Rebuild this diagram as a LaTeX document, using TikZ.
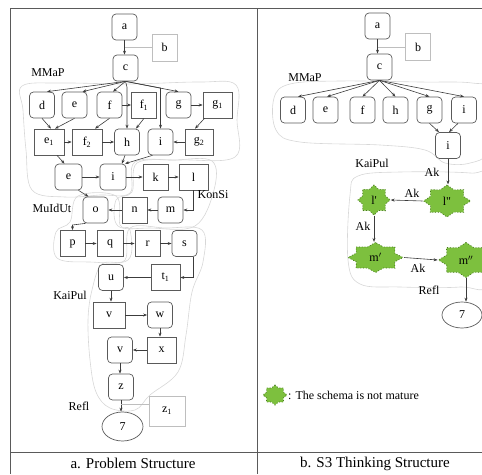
\documentclass[tikz,border=0pt]{standalone}
\usepackage{fontspec}
\setmainfont{Liberation Serif}
\usetikzlibrary{shapes.geometric,arrows.meta}
\definecolor{boxc}{RGB}{90,90,90}
\definecolor{linec}{RGB}{60,60,60}
\definecolor{regc}{RGB}{215,215,215}
\definecolor{ltbox}{RGB}{190,190,190}
\definecolor{starfill}{RGB}{125,192,62}
\definecolor{stardraw}{RGB}{70,120,30}
\begin{document}
\begin{tikzpicture}[x=1pt,y=-1pt, font=\rmfamily\fontsize{12}{14}\selectfont,
 box/.style={draw=boxc, line width=0.7pt, minimum width=25pt, minimum height=26pt, inner sep=0pt},
 rbox/.style={box, rounded corners=4pt},
 gbox/.style={draw=ltbox, line width=0.7pt, minimum width=25pt, minimum height=27pt, inner sep=0pt},
 arr/.style={draw=linec, line width=0.6pt, -{Stealth[length=4pt,width=3pt]}},
 gl/.style={draw=ltbox, line width=0.6pt},
 reg/.style={draw=regc, line width=0.6pt},
 lab/.style={inner sep=0pt},
 oval/.style={draw=boxc, line width=0.7pt, ellipse, inner sep=0pt},
 starnode/.style={star, star points=8, star point ratio=1.32, fill=starfill, draw=stardraw, dotted, line width=0.8pt, inner sep=0pt, transform shape},
 captxt/.style={font=\rmfamily\fontsize{15}{17}\selectfont, inner sep=0pt}
]
\useasboundingbox (0,0) rectangle (482,474);

% ---------- background regions ----------
\draw[reg] plot[smooth cycle, tension=0.6] coordinates {(22,86) (60,83) (130,84) (200,82) (236,85) (237,120) (235,157) (180,160) (135,162) (130,193) (100,195) (65,197) (32,190) (26,150) (23,110)};
\draw[reg] plot[smooth cycle, tension=0.6] coordinates {(137,163) (175,160) (212,161) (214,190) (195,226) (150,228) (118,226) (116,200) (132,192)};
\draw[reg] plot[smooth cycle, tension=0.6] coordinates {(78,196) (116,196) (120,225) (130,230) (128,260) (90,262) (57,258) (56,232) (70,222)};
\draw[reg] plot[smooth cycle, tension=0.6] coordinates {(130,228) (165,228) (202,230) (203,262) (192,292) (186,335) (178,372) (150,395) (135,410) (110,408) (96,392) (90,360) (88,320) (92,290) (102,264) (125,260)};
\draw[reg] plot[smooth cycle, tension=0.6] coordinates {(274,98) (290,84) (340,81) (420,82) (472,83) (487,92) (487,150) (470,163) (445,163) (425,150) (380,145) (300,142) (276,130)};
\draw[reg] plot[smooth cycle, tension=0.6] coordinates {(350,195) (358,176) (400,172) (470,173) (490,180) (490,280) (460,287) (400,287) (360,284) (348,260)};

% ---------- table ----------
\draw[draw=boxc, line width=0.8pt] (10,8) -- (482,8);
\draw[draw=boxc, line width=0.8pt] (10,8) -- (10,474);
\draw[draw=boxc, line width=0.8pt] (257,8) -- (257,474);
\draw[draw=boxc, line width=0.8pt] (10,452) -- (482,452);
\node[captxt] (capa) at (133,463) {a. Problem Structure};
\node[captxt] (capb) at (375,464) {b. S3 Thinking Structure};

% ---------- left panel ----------
\node[rbox] (a) at (124.5,27) {a};
\node[gbox] (b) at (164.5,47.5) {b};
\node[rbox] (c) at (125.5,68) {c};
\node[lab] (mmapL) at (48,73) {MMaP};
\node[rbox] (d) at (42,105) {d};
\node[rbox] (e) at (74.5,105) {e};
\node[rbox] (f) at (109.5,105) {f};
\node[box] (f1) at (144,105) {f\textsubscript{1}};
\node[rbox] (g) at (178.5,105) {g};
\node[box, minimum width=29pt] (g1) at (217.5,105) {g\textsubscript{1}};
\node[box, minimum width=30pt] (e1) at (49,142) {e\textsubscript{1}};
\node[box, minimum width=30pt] (f2) at (87,142) {f\textsubscript{2}};
\node[rbox] (h) at (127,142) {h};
\node[rbox] (i) at (160.5,142) {i};
\node[box, minimum width=28pt] (g2) at (199,142) {g\textsubscript{2}};
\node[rbox, minimum width=27pt] (e3) at (68.5,177) {e};
\node[rbox, minimum width=26pt] (i3) at (113,177) {i};
\node[box] (k) at (155.5,177) {k};
\node[box, minimum width=29pt] (l) at (193.5,177) {l};
\node[lab] (konsi) at (213,195) {KonSi};
\node[lab] (muidut) at (52,208) {MuIdUt};
\node[rbox] (o) at (95.5,210) {o};
\node[box] (n) at (134.5,210) {n};
\node[rbox] (m) at (170.5,210) {m};
\node[box] (p) at (72.5,243.5) {p};
\node[box, minimum width=26pt] (q) at (110,243.5) {q};
\node[box] (r) at (147.5,243.5) {r};
\node[rbox] (s) at (184.5,243.5) {s};
\node[rbox] (u) at (111,277.5) {u};
\node[box, minimum width=29pt] (t1) at (165.5,277.5) {t\textsubscript{1}};
\node[lab] (kaipulL) at (70,295) {KaiPul};
\node[box, minimum width=32pt] (v) at (109,315) {v};
\node[rbox] (w) at (160,315) {w};
\node[rbox] (v2) at (120,350) {v};
\node[box, minimum width=29pt] (x) at (161.5,350) {x};
\node[rbox] (z) at (121,387) {z};
\node[lab] (reflL) at (79,406) {Refl};
\node[gbox, minimum width=36pt, minimum height=30pt] (z1) at (167,411) {z\textsubscript{1}};
\node[oval, minimum width=41pt, minimum height=29pt] (sevenL) at (122.5,426.5) {7};

\coordinate (bjL) at (124.5,47.5);
\coordinate (zjL) at (121,404);
\draw[arr] (a.south) -- (a.south |- c.north);
\draw[gl] (b.west) -- (bjL);
\draw[arr] (c.south) -- ([xshift=5pt]d.north);
\draw[arr] (c.south) -- ([xshift=8pt]e.north);
\draw[arr] (c.south) -- ([xshift=3.5pt]f.north);
\draw[arr] (c.south) -- (g.north);
\draw[arr] (c.south) -- (h.north |- 0,87) -- (h.north);
\draw[arr] (c.south) -- (i.north |- 0,88) -- (i.north);
\draw[arr] (f.east) -- (f1.west);
\draw[arr] (g.east) -- (g1.west);
\draw[arr] (d.south) -- ([xshift=2pt]e1.north);
\draw[arr] (e.south) -- ([xshift=6pt]e1.north);
\draw[arr] (f.south) -- ([xshift=8pt]f2.north);
\draw[arr] (f1.south) -- ([xshift=9pt]h.north);
\draw[arr] ([xshift=-13pt]g1.south) -- ([xshift=-4pt]g2.north);
\draw[arr] (e1.east) -- (f2.west);
\draw[arr] (f2.east) -- (h.west);
\draw[arr] (g2.west) -- (i.east);
\draw[arr] ([xshift=8pt]e1.south) -- ([xshift=-4pt]e3.north);
\draw[arr] ([xshift=-2pt]h.south) -- ([xshift=9pt]i3.north);
\draw[arr] ([xshift=-8pt]i.south) -- ([xshift=12pt]i3.north);
\draw[arr] (e3.east) -- (i3.west);
\draw[arr] (i3.east) -- (k.west);
\draw[arr] (k.east) -- (l.west);
\draw[arr] (l.south) |- (m.east);
\draw[arr] (m.west) -- (n.east);
\draw[arr] (n.west) -- (o.east);
\draw[arr] ([xshift=10pt]e3.south) -- ([xshift=-7pt]o.north);
\draw[arr] ([xshift=3pt]o.south west) -- (p.north |- 0,225) -- (p.north);
\draw[arr] (p.east) -- (q.west);
\draw[arr] (q.east) -- (r.west);
\draw[arr] (r.east) -- (s.west);
\draw[arr] ([xshift=9pt]s.south) |- (t1.east);
\draw[arr] (t1.west) -- (u.east);
\draw[arr] (u.south) -- (u.south |- v.north);
\draw[arr] (v.east) -- (w.west);
\draw[arr] (w.south) -- (w.south |- x.north);
\draw[arr] (x.west) -- (v2.east);
\draw[arr] (v2.south) -- (v2.south |- z.north);
\draw[arr] (z.south) -- (z.south |- sevenL.north);
\draw[gl] (zjL -| z1.west) -- (zjL);

% ---------- right panel ----------
\node[rbox] (aR) at (377.5,26) {a};
\node[gbox] (bR) at (418,47) {b};
\node[rbox] (cR) at (379.5,67) {c};
\node[lab] (mmapR) at (305,78) {MMaP};
\node[rbox] (dR) at (293,110) {d};
\node[rbox] (eR) at (325.5,110) {e};
\node[rbox] (fR) at (362.5,110) {f};
\node[rbox] (hR) at (395.5,110) {h};
\node[rbox] (gR) at (429.5,110) {g};
\node[rbox] (iR) at (464,110) {i};
\node[rbox] (i2R) at (448,145.5) {i};
\node[lab] (kaipulR) at (372,163) {KaiPul};

\begin{scope}[shift={(447,201)}, xscale=1.47]
\node[starnode, minimum size=32pt] (lpp) at (0,0) {};
\end{scope}
\begin{scope}[shift={(374,200)}, xscale=1.07]
\node[starnode, minimum size=30pt] (lp) at (0,0) {};
\end{scope}
\begin{scope}[shift={(375.5,257.5)}, xscale=1.83]
\node[starnode, minimum size=30pt] (mp) at (0,0) {};
\end{scope}
\begin{scope}[shift={(466,260)}, xscale=1.57]
\node[starnode, minimum size=35pt] (mpp) at (0,0) {};
\end{scope}
\begin{scope}[shift={(275,395)}, xscale=1.2]
\node[starnode, minimum size=20pt] (legstar) at (0,0) {};
\end{scope}
\node[lab] (lppt) at (lpp) {l\textquotedbl};
\node[lab] (lpt) at (lp) {l\textquotesingle};
\node[lab] (mpt) at (mp) {m$'$};
\node[lab] (mppt) at (mpp) {m$''$};
\node[lab, anchor=west] (legtxt) at (288,395) {: The schema is not mature};

\node[lab] (ak1) at (432,172) {Ak};
\node[lab] (ak2) at (412,193) {Ak};
\node[lab] (ak3) at (363,226) {Ak};
\node[lab] (ak4) at (418,268) {Ak};
\node[lab] (reflR) at (429,290) {Refl};
\node[oval, minimum width=40pt, minimum height=26pt] (sevenR) at (462,315) {7};

\coordinate (bjR) at (377.5,47);
\draw[arr] (aR.south) -- (aR.south |- cR.north);
\draw[gl] (bR.west) -- (bjR);
\draw[arr] (cR.south) -- ([xshift=5pt]dR.north);
\draw[arr] (cR.south) -- ([xshift=1.5pt]eR.north);
\draw[arr] (cR.south) -- (fR.north);
\draw[arr] (cR.south) -- (hR.north);
\draw[arr] (cR.south) -- (gR.north);
\draw[arr] (cR.south) -- (iR.north);
\draw[arr] (gR.south) -- ([xshift=-9pt]i2R.north);
\draw[arr] ([xshift=-6pt]iR.south) -- ([xshift=1pt]i2R.north);
\draw[arr] (i2R.south) -- (i2R.south |- lpp.north);
\draw[arr] (lpp.west) -- (lp.east);
\draw[arr] (lp.south) -- (lp.south |- mp.north);
\draw[arr] (mp.east) -- (mpp.west);
\draw[arr] (mpp.south) -- (mpp.south |- sevenR.north);
\end{tikzpicture}
\end{document}
